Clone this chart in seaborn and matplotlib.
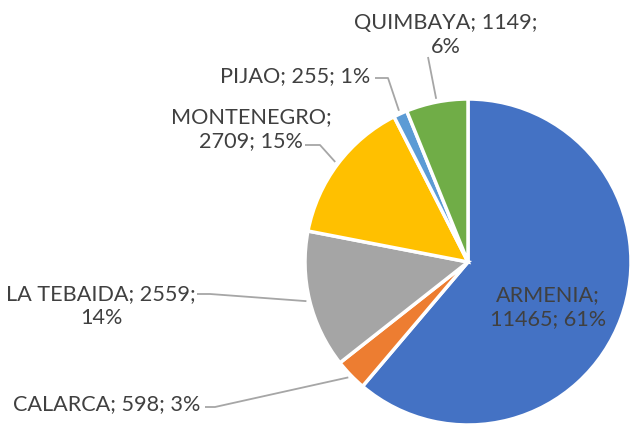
import numpy as np
import matplotlib
matplotlib.use("Agg")
import matplotlib.pyplot as plt
import seaborn as sns

# Data
names = ["ARMENIA", "CALARCA", "LA TEBAIDA", "MONTENEGRO", "PIJAO", "QUIMBAYA"]
values = [11465, 598, 2559, 2709, 255, 1149]
colors = ["#4472C4", "#ED7D31", "#A5A5A5", "#FFC000", "#5B9BD5", "#70AD47"]
# where the label line breaks: 'name' = after name, 'pct' = before percent, None = single line
breaks = ["name", None, "pct", "name", None, "pct"]

sns.set_theme(style="white")
plt.rcParams["font.family"] = ["Lato", "DejaVu Sans"]

W, H = 632, 426
fig = plt.figure(figsize=(W / 100, H / 100), dpi=100)
ax = fig.add_axes([0, 0, 1, 1])

cx, cy_px, R = 468, 262, 163
def Y(ypx):
    return H - ypx

wedges, _ = ax.pie(values, colors=colors, startangle=90, counterclock=False,
                   radius=R, center=(cx, Y(cy_px)), frame=True,
                   wedgeprops=dict(edgecolor="white", linewidth=2.5))
ax.set_xlim(0, W)
ax.set_ylim(0, H)
ax.set_aspect("equal")
ax.axis("off")

# percentages that add up to 100 (largest remainder, as the spreadsheet shows)
total = sum(values)
raw = np.array(values) / total * 100
pcts = np.floor(raw).astype(int)
rem = raw - pcts
for k in np.argsort(-rem)[: 100 - pcts.sum()]:
    pcts[k] += 1

labels = []
for n, v, p, b in zip(names, values, pcts, breaks):
    if b == "name":
        labels.append(f"{n};\n{v}; {p}%")
    elif b == "pct":
        labels.append(f"{n}; {v};\n{p}%")
    else:
        labels.append(f"{n}; {v}; {p}%")

# label layout (pixel coordinates, origin top-left)
text_pos = [(548, 307, "center"), (200, 404, "right"), (101, 306, "center"),
            (251, 129, "center"), (295, 76, "center"), (446, 35, "center")]
line_start = [None, (205, 407), (197, 294), (305, 145), (375, 78), (428, 57)]
line_elbow = [None, (215, 407), (210, 294), (320, 145), (388, 78), (428, 57)]

txt_color = "#404040"
for i, w in enumerate(wedges):
    x, y, ha = text_pos[i]
    ax.text(x, Y(y), labels[i], ha=ha, va="center", fontsize=15.6,
            color=txt_color, linespacing=1.3, multialignment="center")
    if line_start[i] is not None:
        mid = np.deg2rad((w.theta1 + w.theta2) / 2)
        ex = cx + R * 1.02 * np.cos(mid)
        ey = Y(cy_px) + R * 1.02 * np.sin(mid)
        xs = [line_start[i][0], line_elbow[i][0], ex]
        ys = [Y(line_start[i][1]), Y(line_elbow[i][1]), ey]
        ax.plot(xs, ys, color="#A6A6A6", linewidth=1.3, solid_capstyle="butt")

fig.savefig("out.png", dpi=100, facecolor="white")
